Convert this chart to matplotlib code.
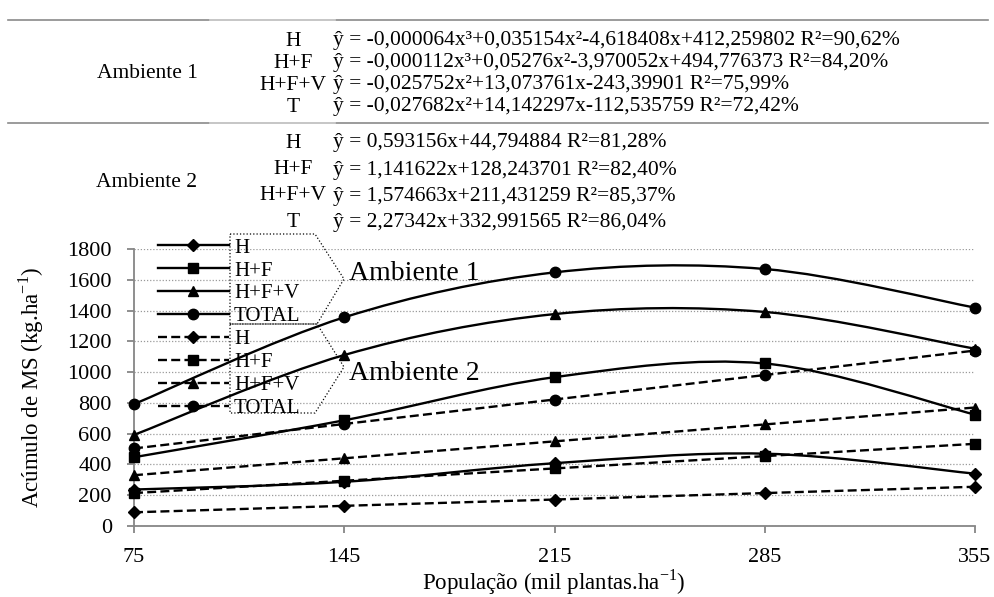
import numpy as np
import matplotlib.pyplot as plt
from matplotlib.path import Path
from matplotlib.patches import PathPatch, Polygon
from matplotlib.lines import Line2D

plt.rcParams['font.family'] = ['Liberation Serif', 'DejaVu Serif']
plt.rcParams['mathtext.fontset'] = 'custom'
plt.rcParams['mathtext.rm'] = 'Liberation Serif'

populacao = ['75', '145', '215', '285', '355']

# Ambiente 1 (linhas cheias, suavizadas)
amb1_h = [237, 287, 408, 470, 340]
amb1_hf = [447, 687, 967, 1056, 724]
amb1_hfv = [592, 1111, 1377, 1391, 1152]
amb1_total = [792, 1356, 1648, 1670, 1419]

# Ambiente 2 (linhas tracejadas)
amb2_h = [89, 131, 172, 214, 255]
amb2_hf = [214, 294, 374, 454, 534]
amb2_hfv = [330, 440, 550, 660, 770]
amb2_total = [504, 663, 822, 981, 1140]

componentes = ['H', 'H+F', 'H+F+V', 'TOTAL']
marcadores = ['D', 's', '^', 'o']
tam_marc = [6, 7, 7.5, 7.5]

rotulos_eq = ['H', 'H+F', 'H+F+V', 'T']
eq_amb1 = ['ŷ = -0,000064x³+0,035154x²-4,618408x+412,259802 R²=90,62%',
           'ŷ = -0,000112x³+0,05276x²-3,970052x+494,776373 R²=84,20%',
           'ŷ = -0,025752x²+13,073761x-243,39901 R²=75,99%',
           'ŷ = -0,027682x²+14,142297x-112,535759 R²=72,42%']
eq_amb2 = ['ŷ = 0,593156x+44,794884 R²=81,28%',
           'ŷ = 1,141622x+128,243701 R²=82,40%',
           'ŷ = 1,574663x+211,431259 R²=85,37%',
           'ŷ = 2,27342x+332,991565 R²=86,04%']

W, H = 995, 597


def fx(x):
    return x / W


def fy(y):
    return 1 - y / H


def curva_suave(xs, ys, t=1 / 6):
    # bezier no estilo "linha suavizada" do Excel
    pts = np.column_stack([xs, ys]).astype(float)
    n = len(pts)
    verts = [pts[0]]
    codes = [Path.MOVETO]
    for i in range(n - 1):
        p0 = pts[max(i - 1, 0)]
        p1 = pts[i]
        p2 = pts[i + 1]
        p3 = pts[min(i + 2, n - 1)]
        verts += [p1 + (p2 - p0) * t, p2 - (p3 - p1) * t, p2]
        codes += [Path.CURVE4] * 3
    return Path(verts, codes)


fig = plt.figure(figsize=(W / 100, H / 100), dpi=100)
ax = fig.add_axes([fx(134), fy(526), (975 - 134) / W, (526 - 249) / H])

x = np.arange(len(populacao))
lw = 1.7
dash = (0, (3.8, 1.8))

handles = []
for serie, m, ms in zip([amb1_h, amb1_hf, amb1_hfv, amb1_total], marcadores, tam_marc):
    ax.add_patch(PathPatch(curva_suave(x, serie), fill=False, lw=lw,
                           edgecolor='black', clip_on=False, zorder=3))
    ax.plot(x, serie, ls='none', marker=m, ms=ms, color='black',
            clip_on=False, zorder=4)
    handles.append(Line2D([], [], color='black', lw=lw, marker=m, ms=ms))

for serie, m, ms in zip([amb2_h, amb2_hf, amb2_hfv, amb2_total], marcadores, tam_marc):
    ax.plot(x, serie, ls=dash, lw=lw, marker=m, ms=ms, color='black',
            clip_on=False, zorder=3)
    handles.append(Line2D([], [], color='black', lw=lw, ls=dash, marker=m, ms=ms))

ax.set_xlim(0, len(populacao) - 1)
ax.set_ylim(0, 1800)
ax.set_xticks(x)
ax.set_xticklabels(populacao)
ax.set_yticks(np.arange(0, 1801, 200))
ax.grid(axis='y', color='#9a9a9a', ls=(0, (1, 1.5)), lw=0.9)
ax.set_axisbelow(True)
for s in ['top', 'right']:
    ax.spines[s].set_visible(False)
for s in ['left', 'bottom']:
    ax.spines[s].set_color('#868686')
    ax.spines[s].set_linewidth(1.3)
ax.tick_params(axis='both', colors='#868686', length=5, width=1.3,
               labelcolor='black', labelsize=16)
ax.tick_params(axis='x', pad=11)
ax.tick_params(axis='y', pad=11)

ax.legend(handles, componentes * 2, loc='upper left',
          bbox_to_anchor=(fx(158), fy(238)), bbox_transform=fig.transFigure,
          frameon=False, handlelength=3.4, handletextpad=0.25,
          labelspacing=0.16, borderpad=0, borderaxespad=0, fontsize=15)

# caixas pontilhadas indicando cada ambiente
caixa1 = [(230, 234), (315, 234), (344, 279), (317, 324), (230, 324)]
caixa2 = [(230, 324), (317, 324), (344, 367), (315, 413), (230, 413)]
for cx in [caixa1, caixa2]:
    fig.add_artist(Polygon([(fx(a), fy(b)) for a, b in cx], closed=True,
                           fill=False, ls=':', lw=0.9, color='black',
                           transform=fig.transFigure))
fig.text(fx(349), fy(273), 'Ambiente 1', fontsize=20, va='center')
fig.text(fx(349), fy(373), 'Ambiente 2', fontsize=20, va='center')

fig.text(fx(31), fy(387), 'Acúmulo de MS (kg.ha$^{-1}$)', rotation=90,
         fontsize=16.5, ha='center', va='center')
fig.text(fx(554), fy(582), 'População (mil plantas.ha$^{-1}$)',
         fontsize=16.5, ha='center', va='center')

# tabela de equações acima do gráfico
for yl in [20, 123]:
    fig.add_artist(Line2D([fx(8), fx(988)], [fy(yl)] * 2, color='#8a8a8a', lw=1.2))
    fig.add_artist(Line2D([fx(210), fx(335)], [fy(yl)] * 2, color='#d0d0d0', lw=1.2))

linhas1 = [41, 63, 85, 107]
linhas2 = [143, 170, 196, 222]
for nome, linhas, eqs in [('Ambiente 1', linhas1, eq_amb1),
                          ('Ambiente 2', linhas2, eq_amb2)]:
    fig.text(fx(147), fy(np.mean(linhas)), nome, fontsize=15.5,
             ha='center', va='center')
    for yl, rot, eq in zip(linhas, rotulos_eq, eqs):
        fig.text(fx(293), fy(yl), rot, fontsize=15.5, ha='center', va='center')
        fig.text(fx(333), fy(yl), eq, fontsize=15.5, ha='left', va='center')

fig.savefig('out.png', dpi=100)
